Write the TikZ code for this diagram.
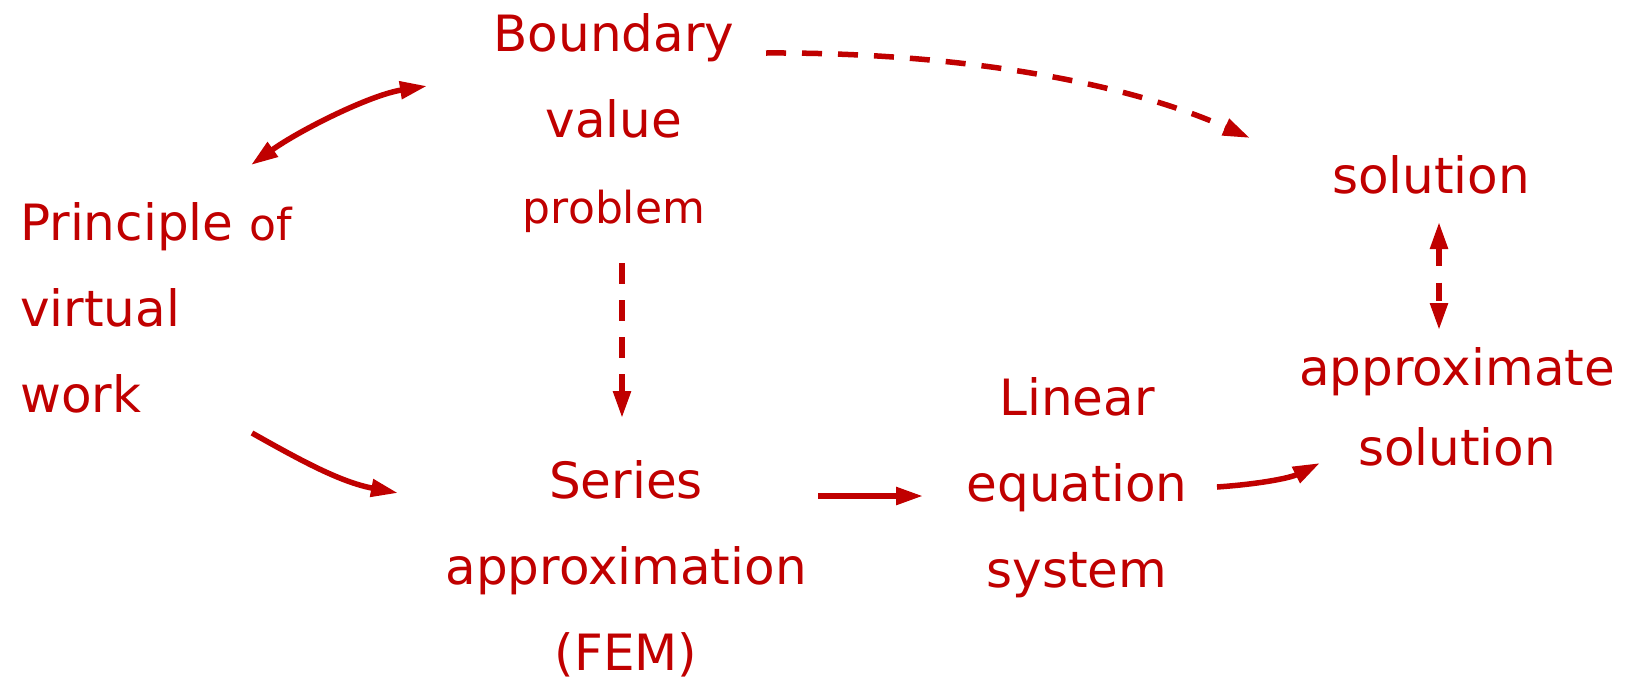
\documentclass[tikz,border=0pt]{standalone}
\usepackage{fontspec}
\setmainfont{DejaVu Sans}
\usetikzlibrary{arrows.meta}
\definecolor{fered}{HTML}{C00000}
\tikzset{
  block/.style={text=fered, inner sep=0pt, align=center, font=\fontsize{50}{86}\selectfont},
  flow/.style={draw=fered, line width=5.5pt, -{Triangle[length=27pt,width=17pt]}},
  both/.style={draw=fered, line width=5.5pt, {Triangle[length=27pt,width=17pt]}-{Triangle[length=27pt,width=17pt]}},
  guess/.style={dash pattern=on 20pt off 16pt},
}
\newcommand{\smallword}[1]{{\fontsize{44}{86}\selectfont #1}}

\begin{document}
\begin{tikzpicture}[x=1pt, y=-1pt]
\useasboundingbox (0,0) rectangle (1625,681);
% text blocks (base = last line)
\node[block, anchor=base] (bvp) at (614,223) {Boundary\\value\\\smallword{problem}};
\node[block, anchor=base west, align=left] (pvw) at (20,412) {Principle \smallword{of}\\virtual\\work};
\node[block, anchor=base] (series) at (626,670) {Series\\approximation\\(FEM)};
\node[block, anchor=base] (linear) at (1077,587) {Linear\\equation\\system};
\node[block, anchor=base] (solution) at (1431,193) {solution};
\node[block, anchor=base] (approx) at (1457,465) {approximate\\[-6pt]solution};
% connectors
\draw[both] ([shift={(231,-247)}]pvw.base west) .. controls +(49,-35) and +(-57,9) .. ([shift={(-187,-137)}]bvp.base);
\draw[flow] ([shift={(232,21)}]pvw.base west) .. controls +(48,27) and +(-58,-11) .. ([shift={(-228,-177)}]series.base);
\draw[flow, guess] ([shift={(152,-170)}]bvp.base) .. controls +(184,-1) and +(-130,-58) .. ([shift={(-181,-55)}]solution.base);
\draw[flow, dash pattern=on 21pt off 16pt] ([shift={(8,40)}]bvp.base) -- ([shift={(-4,-252)}]series.base);
\draw[flow] ([shift={(192,-174)}]series.base) -- ([shift={(-154,-91)}]linear.base);
\draw[flow] ([shift={(140,-100)}]linear.base) .. controls +(43,-3) and +(-30,15) .. ([shift={(-137,-2)}]approx.base);
\draw[both, dash pattern=on 18pt off 17pt] ([shift={(8,29)}]solution.base) -- ([shift={(-18,-135)}]approx.base);
\end{tikzpicture}
\end{document}
